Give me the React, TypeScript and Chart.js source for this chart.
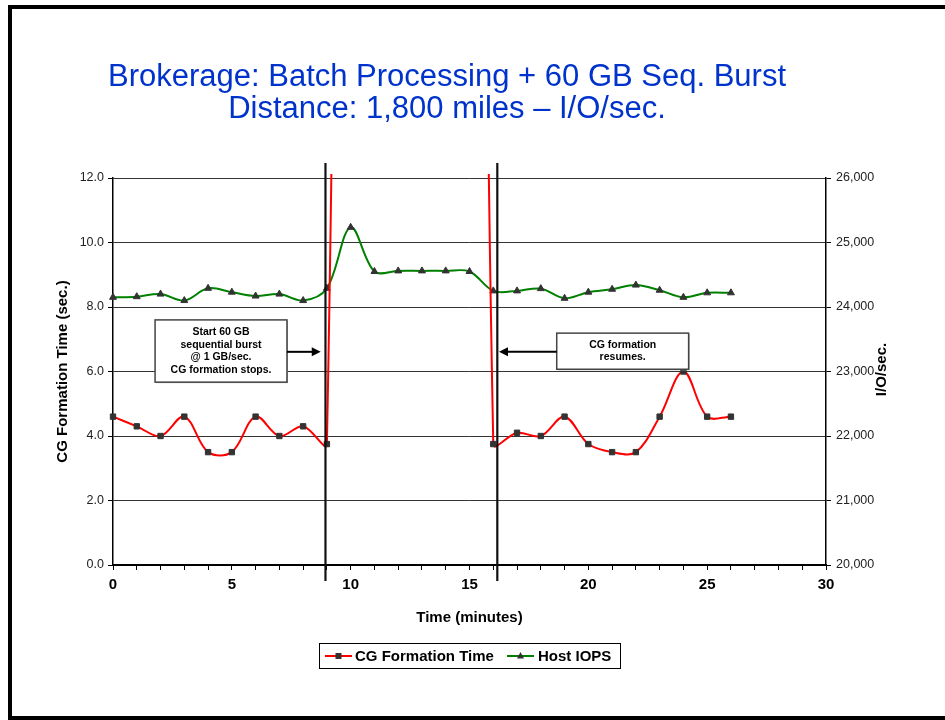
import React, { useEffect, useRef } from 'react';
import { Chart, registerables } from 'chart.js';

Chart.register(...registerables);

// ---------------- data ----------------
const minutes = [0, 1, 2, 3, 4, 5, 6, 7, 8, 9, 10, 11, 12, 13, 14, 15, 16, 17, 18, 19, 20, 21, 22, 23, 24, 25, 26];
// CG formation time (sec.) - during the burst (10..15) the values are far off the 0-12 scale
const cgFormationTime = [4.6, 4.3, 4.0, 4.6, 3.5, 3.5, 4.6, 4.0, 4.3, 3.75, 80, 80, 80, 80, 80, 80, 3.75, 4.1, 4.0, 4.6, 3.75, 3.5, 3.5, 4.6, 6.0, 4.6, 4.6];
// Host IOPS (I/O/sec.)
const hostIops = [24150, 24160, 24200, 24100, 24290, 24230, 24170, 24200, 24100, 24290, 25235, 24550, 24560, 24560, 24560, 24550, 24250, 24250, 24285, 24135, 24230, 24275, 24340, 24260, 24150, 24220, 24220];

const seriesNames = ['CG Formation Time', 'Host IOPS'];
const titleLines = ['Brokerage: Batch Processing + 60 GB Seq. Burst', 'Distance: 1,800 miles \u2013 I/O/sec.'];
const xAxisTitle = 'Time (minutes)';
const yAxisTitle = 'CG Formation Time (sec.)';
const y2AxisTitle = 'I/O/sec.';
// vertical event markers (minutes)
const burstMarkers = [8.94, 16.17];
const noteStart = ['Start 60 GB', 'sequential burst', '@ 1 GB/sec.', 'CG formation stops.'];
const noteResume = ['CG formation', 'resumes.'];

const FONT = "'Liberation Sans', Arial, Helvetica, sans-serif";

const decorPlugin = {
  id: 'decor',
  afterDraw(chart: any) {
    const { ctx, chartArea: a } = chart;
    const x = chart.scales.x;
    const y = chart.scales.y;
    ctx.save();

    // slide frame
    ctx.fillStyle = '#000';
    ctx.fillRect(8, 5, 945 - 8, 4);
    ctx.fillRect(8, 5, 4, 715);
    ctx.fillRect(8, 716, 945 - 8, 4);

    // title
    ctx.fillStyle = '#0033cc';
    ctx.font = `31px ${FONT}`;
    ctx.textAlign = 'center';
    ctx.textBaseline = 'alphabetic';
    ctx.fillText(titleLines[0], 447, 86);
    ctx.fillText(titleLines[1], 447, 118);

    // axis titles
    ctx.fillStyle = '#000';
    ctx.font = `bold 15px ${FONT}`;
    ctx.textBaseline = 'middle';
    ctx.fillText(xAxisTitle, (a.left + a.right) / 2, 618);
    ctx.save();
    ctx.translate(63, (a.top + a.bottom) / 2);
    ctx.rotate(-Math.PI / 2);
    ctx.fillText(yAxisTitle, 0, 0);
    ctx.restore();
    ctx.save();
    ctx.translate(882, (a.top + a.bottom) / 2 - 2);
    ctx.rotate(-Math.PI / 2);
    ctx.fillText(y2AxisTitle, 0, 0);
    ctx.restore();

    // vertical event lines
    ctx.strokeStyle = '#111';
    ctx.lineWidth = 2.2;
    burstMarkers.forEach((m) => {
      const px = x.getPixelForValue(m);
      ctx.beginPath();
      ctx.moveTo(px, a.top - 15);
      ctx.lineTo(px, a.bottom + 16);
      ctx.stroke();
    });

    // annotation boxes
    const drawBox = (x0: number, x1: number, y0: number, y1: number, lines: string[]) => {
      const l = x.getPixelForValue(x0);
      const r = x.getPixelForValue(x1);
      const t = y.getPixelForValue(y0);
      const b = y.getPixelForValue(y1);
      ctx.fillStyle = '#aaa';
      ctx.fillRect(l + 1, t + 1, r - l, b - t);
      ctx.fillStyle = '#fff';
      ctx.fillRect(l, t, r - l, b - t);
      ctx.strokeStyle = '#444';
      ctx.lineWidth = 1.5;
      ctx.strokeRect(l, t, r - l, b - t);
      ctx.fillStyle = '#000';
      ctx.font = `bold 10.5px ${FONT}`;
      ctx.textAlign = 'center';
      ctx.textBaseline = 'middle';
      const lh = 12.4;
      const cy = (t + b) / 2;
      lines.forEach((s, i) => {
        ctx.fillText(s, (l + r) / 2, cy + (i - (lines.length - 1) / 2) * lh);
      });
    };
    const drawArrow = (from: number, to: number, yv: number) => {
      const fx = x.getPixelForValue(from);
      const tx = x.getPixelForValue(to);
      const py = y.getPixelForValue(yv);
      const dir = tx > fx ? 1 : -1;
      ctx.strokeStyle = '#000';
      ctx.lineWidth = 2;
      ctx.beginPath();
      ctx.moveTo(fx, py);
      ctx.lineTo(tx - dir * 6, py);
      ctx.stroke();
      ctx.fillStyle = '#000';
      ctx.beginPath();
      ctx.moveTo(tx, py);
      ctx.lineTo(tx - dir * 9, py - 4.5);
      ctx.lineTo(tx - dir * 9, py + 4.5);
      ctx.closePath();
      ctx.fill();
    };
    drawBox(1.77, 7.32, 7.6, 5.67, noteStart);
    drawArrow(7.32, 8.74, 6.61);
    drawBox(18.67, 24.22, 7.19, 6.07, noteResume);
    drawArrow(18.67, 16.24, 6.61);

    // legend
    const lx = 319.5, ly = 643.5, lw = 301, lhgt = 25;
    ctx.fillStyle = '#fff';
    ctx.fillRect(lx, ly, lw, lhgt);
    ctx.strokeStyle = '#000';
    ctx.lineWidth = 1;
    ctx.strokeRect(lx, ly, lw, lhgt);
    const my = ly + lhgt / 2;
    // red sample
    ctx.strokeStyle = '#ff0000';
    ctx.lineWidth = 2;
    ctx.beginPath();
    ctx.moveTo(325, my);
    ctx.lineTo(352, my);
    ctx.stroke();
    ctx.fillStyle = '#333';
    ctx.fillRect(338.5 - 3, my - 3, 6, 6);
    // green sample
    ctx.strokeStyle = '#008000';
    ctx.beginPath();
    ctx.moveTo(507, my);
    ctx.lineTo(534, my);
    ctx.stroke();
    ctx.fillStyle = '#333';
    ctx.beginPath();
    ctx.moveTo(520.5, my - 4);
    ctx.lineTo(524, my + 2.5);
    ctx.lineTo(517, my + 2.5);
    ctx.closePath();
    ctx.fill();
    ctx.fillStyle = '#000';
    ctx.font = `bold 15px ${FONT}`;
    ctx.textAlign = 'left';
    ctx.textBaseline = 'middle';
    ctx.fillText(seriesNames[0], 355, my + 0.5);
    ctx.fillText(seriesNames[1], 538, my + 0.5);

    ctx.restore();
  },
};

export default function App() {
  const ref = useRef<HTMLCanvasElement | null>(null);

  useEffect(() => {
    document.body.style.margin = '0';
    const canvas = ref.current;
    if (!canvas) return;
    const clip = { left: 8, top: 4, right: 8, bottom: 8 };
    const chart = new Chart(canvas, {
      type: 'line',
      data: {
        datasets: [
          {
            label: seriesNames[0],
            data: minutes.map((m, i) => ({ x: m, y: cgFormationTime[i] })),
            yAxisID: 'y',
            borderColor: '#ff0000',
            borderWidth: 2,
            tension: 0.35,
            capBezierPoints: false,
            pointStyle: 'rect',
            pointRadius: 3.8,
            pointBackgroundColor: '#333',
            pointBorderColor: '#333',
            pointBorderWidth: 1,
            clip,
          } as any,
          {
            label: seriesNames[1],
            data: minutes.map((m, i) => ({ x: m, y: hostIops[i] })),
            yAxisID: 'y2',
            borderColor: '#008000',
            borderWidth: 2,
            tension: 0.35,
            capBezierPoints: false,
            pointStyle: 'triangle',
            pointRadius: 4,
            pointBackgroundColor: '#333',
            pointBorderColor: '#333',
            pointBorderWidth: 1,
            clip,
          } as any,
        ],
      },
      options: {
        responsive: false,
        animation: false,
        devicePixelRatio: 1,
        layout: { padding: { left: 63, right: 59, top: 178, bottom: 115 } },
        elements: { line: { capBezierPoints: false } },
        plugins: { legend: { display: false }, tooltip: { enabled: false }, title: { display: false } },
        scales: {
          x: {
            type: 'linear',
            min: 0,
            max: 30,
            ticks: {
              stepSize: 1,
              autoSkip: false,
              maxRotation: 0,
              padding: 6,
              color: '#000',
              font: { family: FONT, size: 15, weight: 'bold' },
              callback: (v: any) => (Number(v) % 5 === 0 ? String(v) : ''),
            },
            grid: { drawOnChartArea: false, drawTicks: true, tickLength: 5, color: '#000', lineWidth: 1 },
            border: { display: true, color: '#000', width: 2 },
            afterFit: (s: any) => {
              s.height = 40;
            },
          },
          y: {
            type: 'linear',
            position: 'left',
            min: 0,
            max: 12,
            ticks: {
              stepSize: 2,
              padding: 4,
              color: '#222',
              font: { family: FONT, size: 12.5 },
              callback: (v: any) => Number(v).toFixed(1),
            },
            grid: { color: '#333', lineWidth: 1, tickLength: 5, tickColor: '#000' },
            border: { display: true, color: '#000', width: 1.5 },
            afterFit: (s: any) => {
              s.width = 50;
            },
          },
          y2: {
            type: 'linear',
            position: 'right',
            min: 20000,
            max: 26000,
            ticks: {
              stepSize: 1000,
              padding: 5,
              color: '#222',
              font: { family: FONT, size: 12.5 },
              callback: (v: any) => Number(v).toLocaleString('en-US'),
            },
            grid: { drawOnChartArea: false, tickLength: 5, color: '#000' },
            border: { display: true, color: '#000', width: 1.5 },
            afterFit: (s: any) => {
              s.width = 60;
            },
          },
        } as any,
      },
      plugins: [decorPlugin],
    });
    return () => chart.destroy();
  }, []);

  return <canvas ref={ref} width={945} height={720} style={{ display: 'block', width: 945, height: 720 }} />;
}
